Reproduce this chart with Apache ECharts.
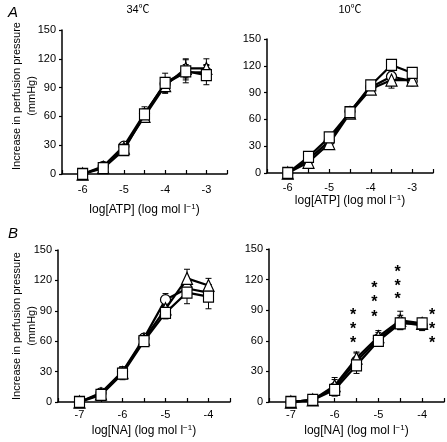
<!DOCTYPE html>
<html><head><meta charset="utf-8">
<script src="https://cdn.jsdelivr.net/npm/echarts@6/dist/echarts.min.js"></script>
<style>html,body{margin:0;padding:0;background:#fff}#c{width:447px;height:442px}</style>
</head><body><div id="c"></div>
<script>
// concentrations (log mol/l)
const atpX = [-6, -5.5, -5, -4.5, -4, -3.5, -3];
const naX  = [-7, -6.5, -6, -5.5, -5, -4.5, -4];
const yTicks = [0, 30, 60, 90, 120, 150];

// Panel A, 34 C (ATP)
const a34Circle   = [0, 8, 29, 63, 94, 106, 106];
const a34CircleE  = [0, 1, 2, 4, 5, 8, 8];
const a34Tri      = [0, 7, 27, 60, 92, 110, 110];
const a34TriE     = [0, 2, 2, 3, 8, 10, 10];
const a34Sq       = [0, 6, 25, 62, 95, 107, 103];
const a34SqE      = [0, 2, 3, 8, 10, 12, 10];
// Panel A, 10 C (ATP)
const a10Circle   = [0, 15, 36, 69, 96, 108, 103];
const a10CircleE  = [0, 2, 3, 3, 3, 6, 4];
const a10Tri      = [0, 12, 33, 67, 94, 104, 104];
const a10TriE     = [0, 2, 3, 3, 3, 9, 4];
const a10Sq       = [0, 18, 40, 68, 98, 121, 112];
const a10SqE      = [0, 2, 3, 3, 3, 4, 6];
// Panel B, 34 C (NA)
const b34Circle   = [0, 9, 30, 63, 101, 112, 108];
const b34CircleE  = [0, 2, 5, 4, 6, 7, 8];
const b34Tri      = [0, 8, 29, 62, 92, 122, 115];
const b34TriE     = [0, 2, 6, 4, 5, 9, 7];
const b34Sq       = [0, 7, 28, 60, 88, 108, 104];
const b34SqE      = [0, 2, 6, 5, 6, 11, 12];
// Panel B, 10 C (NA)
const b10Circle   = [0, 2, 14, 40, 62, 78, 75];
const b10CircleE  = [0, 2, 8, 8, 6, 7, 5];
const b10Tri      = [0, 2, 16, 43, 64, 80, 77];
const b10TriE     = [0, 2, 8, 6, 6, 9, 5];
const b10Sq       = [0, 2, 12, 36, 60, 77, 77];
const b10SqE      = [0, 3, 6, 8, 5, 6, 4];
// significance stars (panel B, 10 C)
const starX = [-5.58, -5.58, -5.58, -5.09, -5.09, -5.09, -4.56, -4.56, -4.56, -3.77, -3.77, -3.77];
const starY = [61, 75, 89, 87, 101, 115, 104, 117, 131, 61, 75, 89];

const FONT = '"Liberation Sans", Arial, sans-serif';
const chart = echarts.init(document.getElementById('c'), null, {renderer: 'canvas'});

const grids = [
  {left: 62, top: 30, width: 165, height: 144},
  {left: 267, top: 39, width: 166, height: 134},
  {left: 58, top: 250, width: 172, height: 152},
  {left: 269, top: 249, width: 176, height: 153}
];
const xRanges = [[-6.5, -2.5], [-6.5, -2.5], [-7.5, -3.5], [-7.5, -3.5]];
const xNames = ['ATP', 'ATP', 'NA', 'NA'];
const xNameGaps = [29, 18, 22, 22];
const xLabelMargins = [10, 9, 7, 7];

const xAxes = grids.map((g, i) => ({
  type: 'value', gridIndex: i, min: xRanges[i][0], max: xRanges[i][1], interval: 0.5,
  axisLine: {lineStyle: {color: '#000', width: 1.5}},
  axisTick: {inside: true, length: 4, lineStyle: {color: '#000', width: 1.2}},
  splitLine: {show: false},
  axisLabel: {color: '#000', fontFamily: FONT, fontSize: 11, margin: xLabelMargins[i],
    formatter: v => (Math.abs(v - Math.round(v)) < 1e-6 && v > xRanges[i][0] + 0.1 && v < xRanges[i][1] - 0.1) ? String(Math.round(v)) : ''},
  name: '{n|log[' + xNames[i] + '] (log mol l}{s|−1}{n|)}',
  nameLocation: 'middle', nameGap: xNameGaps[i],
  nameTextStyle: {color: '#000', fontFamily: FONT, fontSize: 12,
    rich: {n: {fontFamily: FONT, fontSize: 12, color: '#000', lineHeight: 14},
           s: {fontFamily: FONT, fontSize: 8, color: '#000', verticalAlign: 'top', lineHeight: 14, padding: [0, 0, 6, 0]}}}
}));
const yAxes = grids.map((g, i) => ({
  type: 'value', gridIndex: i, min: 0, max: 150, interval: 30,
  axisLine: {show: true, lineStyle: {color: '#000', width: 1.5}},
  axisTick: {show: true, inside: false, length: 3, lineStyle: {color: '#000', width: 1.2}},
  splitLine: {show: false},
  axisLabel: {color: '#000', fontFamily: FONT, fontSize: 11, margin: 6}
}));

const panels = [
  {x: atpX, s: [[a34Circle, a34CircleE], [a34Tri, a34TriE], [a34Sq, a34SqE]]},
  {x: atpX, s: [[a10Circle, a10CircleE], [a10Tri, a10TriE], [a10Sq, a10SqE]]},
  {x: naX,  s: [[b34Circle, b34CircleE], [b34Tri, b34TriE], [b34Sq, b34SqE]]},
  {x: naX,  s: [[b10Circle, b10CircleE], [b10Tri, b10TriE], [b10Sq, b10SqE]]}
];
const symbols = ['circle', 'triangle', 'rect'];
const symSizes = [10, [11, 12], [10, 11]];

function errRender(params, api) {
  const x = api.value(0), lo = api.value(1), hi = api.value(2);
  const p1 = api.coord([x, hi]), p2 = api.coord([x, lo]);
  const w = 3;
  const st = {stroke: '#000', lineWidth: 1};
  return {type: 'group', children: [
    {type: 'line', shape: {x1: p1[0], y1: p1[1], x2: p2[0], y2: p2[1]}, style: st},
    {type: 'line', shape: {x1: p1[0] - w, y1: p1[1], x2: p1[0] + w, y2: p1[1]}, style: st},
    {type: 'line', shape: {x1: p2[0] - w, y1: p2[1], x2: p2[0] + w, y2: p2[1]}, style: st}
  ]};
}

const series = [];
panels.forEach((p, i) => {
  p.s.forEach((pair, k) => {
    const vals = pair[0], errs = pair[1];
    series.push({
      type: 'custom', xAxisIndex: i, yAxisIndex: i, z: 1, renderItem: errRender,
      data: p.x.map((x, j) => [x, vals[j] - errs[j], vals[j] + errs[j]]).filter((d, j) => errs[j] > 0),
      silent: true
    });
  });
  p.s.forEach((pair, k) => {
    series.push({
      type: 'line', xAxisIndex: i, yAxisIndex: i, z: 3 + k,
      data: p.x.map((x, j) => [x, pair[0][j]]),
      symbol: symbols[k], symbolSize: symSizes[k], showAllSymbol: true,
      lineStyle: {color: '#000', width: 2.2},
      itemStyle: {color: '#fff', borderColor: '#000', borderWidth: 1.2},
      animation: false
    });
  });
});
series.push({
  type: 'custom', xAxisIndex: 3, yAxisIndex: 3, z: 6,
  data: starX.map((x, j) => [x, starY[j]]),
  renderItem: (params, api) => {
    const p = api.coord([api.value(0), api.value(1)]);
    return {type: 'text', x: p[0], y: p[1] + 4,
      style: {text: '*', fontFamily: FONT, fontSize: 16, fontWeight: 'bold', fill: '#000', align: 'center', verticalAlign: 'middle'}};
  }
});

const yNameStyle = {fontFamily: FONT, fontSize: 11, fill: '#000', align: 'center', verticalAlign: 'middle', lineHeight: 15};
chart.setOption({
  backgroundColor: '#fff',
  animation: false,
  grid: grids,
  xAxis: xAxes,
  yAxis: yAxes,
  series: series,
  graphic: [
    {type: 'text', left: 8, top: 5, style: {text: 'A', fontFamily: FONT, fontSize: 15, fontStyle: 'italic', fill: '#000'}},
    {type: 'text', left: 8, top: 226, style: {text: 'B', fontFamily: FONT, fontSize: 15, fontStyle: 'italic', fill: '#000'}},
    {type: 'text', x: 138, y: 10, style: {text: '34℃', fontFamily: FONT + ', "Noto Sans CJK JP"', fontSize: 11, fill: '#000', align: 'center', verticalAlign: 'middle'}},
    {type: 'text', x: 350, y: 10, style: {text: '10℃', fontFamily: FONT + ', "Noto Sans CJK JP"', fontSize: 11, fill: '#000', align: 'center', verticalAlign: 'middle'}},
    {type: 'text', x: 24, y: 96, rotation: Math.PI / 2, style: Object.assign({text: 'Increase in perfusion pressure\n(mmHg)'}, yNameStyle)},
    {type: 'text', x: 24, y: 326, rotation: Math.PI / 2, style: Object.assign({text: 'Increase in perfusion pressure\n(mmHg)'}, yNameStyle)}
  ]
});
</script>
</body></html>
